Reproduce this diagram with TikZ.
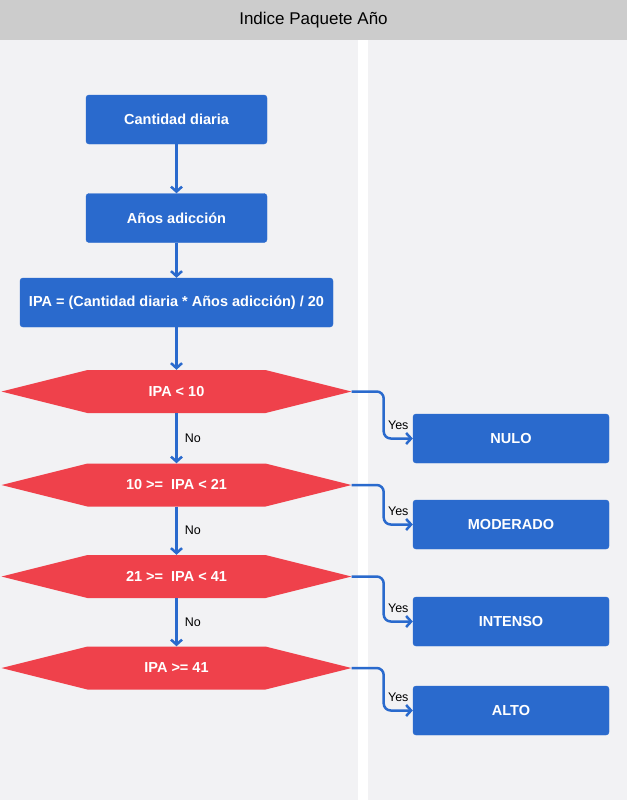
\documentclass[tikz,border=0pt]{standalone}
\usepackage{fontspec}
\setmainfont{Liberation Sans}
\usepackage{tikz}
\usetikzlibrary{arrows.meta,positioning,calc}
\definecolor{boxblue}{HTML}{2A6ACD}
\definecolor{hexred}{HTML}{EF414B}
\definecolor{lanegray}{HTML}{F2F2F4}
\definecolor{headgray}{HTML}{CCCCCC}
\tikzset{stepbox/.style={fill=boxblue, draw=boxblue, rounded corners=3pt, text=white,
    font=\bfseries\fontsize{14.5}{17}\selectfont, minimum height=49pt, inner sep=0pt}}
\tikzset{hexbox/.style={minimum width=350pt, minimum height=43pt, inner sep=0pt, text=white,
    font=\bfseries\fontsize{14.5}{17}\selectfont,
    path picture={\fill[hexred] (path picture bounding box.west)
      -- ([xshift=86pt]path picture bounding box.north west)
      -- ([xshift=-86pt]path picture bounding box.north east)
      -- (path picture bounding box.east)
      -- ([xshift=-86pt]path picture bounding box.south east)
      -- ([xshift=86pt]path picture bounding box.south west) -- cycle;}}}
\tikzset{flow/.style={draw=boxblue, line width=2.5pt, -{Straight Barb[length=5pt,width=11pt]}}}
\tikzset{lbl/.style={font=\fontsize{12.5}{14}\selectfont, inner sep=1pt}}

\begin{document}
\begin{tikzpicture}[x=1pt,y=-1pt]
\useasboundingbox (0,0) rectangle (627,800);
\fill[white] (0,0) rectangle (627,800);

% lanes
\fill[lanegray] (0,40) rectangle (358,800);
\fill[lanegray] (368,40) rectangle (627,800);
\node[fill=headgray, minimum width=627pt, minimum height=40pt, inner sep=0pt,
      font=\fontsize{17}{20}\selectfont] (title) at (313.5,20) {Indice Paquete Año};

\node[stepbox, minimum width=181pt] (cant) at (176.5,119.5) {Cantidad diaria};
\node[stepbox, minimum width=181pt] (anos) at (176.5,218) {Años adicción};
\node[stepbox, minimum width=313pt] (ipa) at (176.5,302.5) {IPA = (Cantidad diaria * Años adicción) / 20};

\node[hexbox] (d1) at (176.5,391.5) {IPA < 10};
\node[hexbox] (d2) at (176.5,485) {10 >=~ IPA < 21};
\node[hexbox] (d3) at (176.5,576.5) {21 >=~ IPA < 41};
\node[hexbox] (d4) at (176.5,668) {IPA >= 41};

\node[stepbox, minimum width=196pt] (nulo) at (511,438.5) {NULO};
\node[stepbox, minimum width=196pt] (moderado) at (511,524.5) {MODERADO};
\node[stepbox, minimum width=196pt] (intenso) at (511,621.5) {INTENSO};
\node[stepbox, minimum width=196pt] (alto) at (511,710.5) {ALTO};

\draw[flow] (cant) -- (anos);
\draw[flow] (anos) -- (ipa);
\draw[flow] (ipa.south) -- (d1.north);

\foreach \a/\b in {d1/d2,d2/d3,d3/d4}
  {
    \draw[flow] (\a.south) -- node[lbl, right=6pt] {No} (\b.north);
  }

\foreach \d/\r in {d1/nulo,d2/moderado,d3/intenso,d4/alto}
  {
    \draw[flow, rounded corners=7pt] (\d.east) -- ++(32,0) |- node[lbl, pos=0.75, above=7pt] {Yes} (\r.west);
  }

\end{tikzpicture}
\end{document}
